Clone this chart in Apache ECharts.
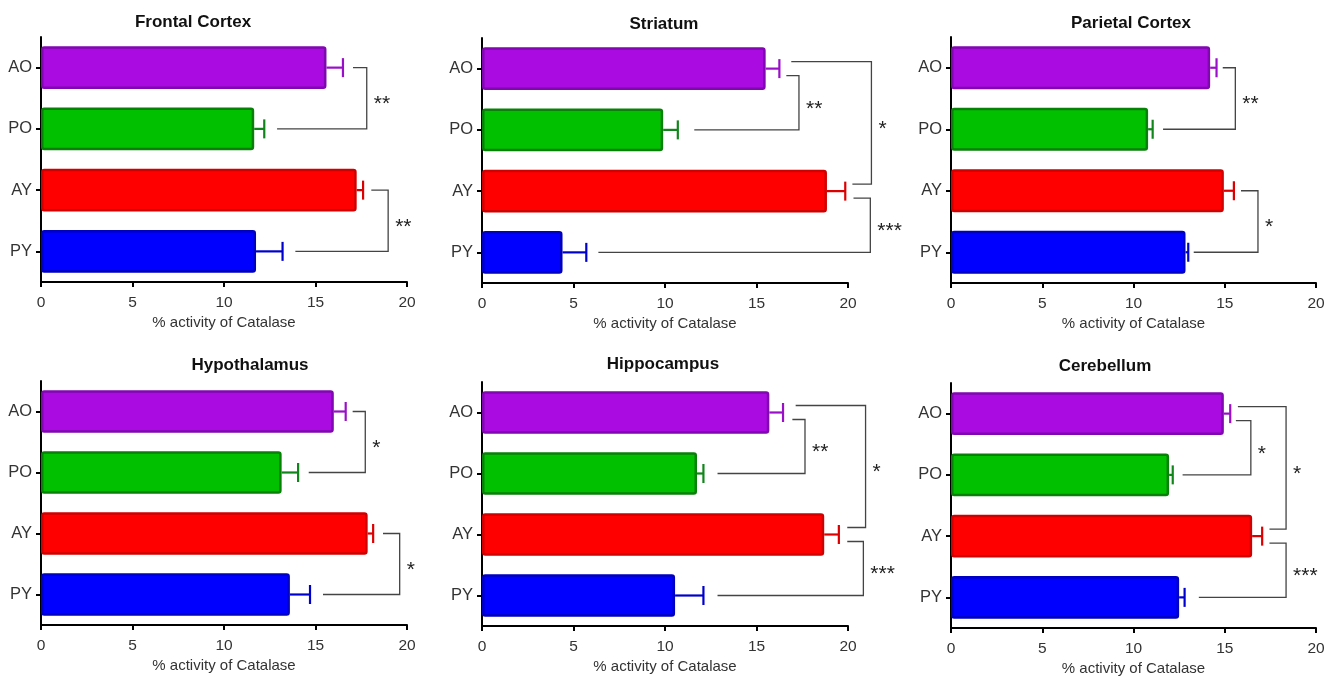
<!DOCTYPE html>
<html>
<head>
<meta charset="utf-8">
<script src="https://cdn.jsdelivr.net/npm/echarts@6/dist/echarts.min.js"></script>
<style>
html, body { margin: 0; padding: 0; background: #fff; }
#chart { width: 1338px; height: 678px; }
</style>
</head>
<body>
<div id="chart"></div>
<script>
// groups, top to bottom
const categories = ['AO', 'PO', 'AY', 'PY'];
const regions = ['Frontal Cortex', 'Striatum', 'Parietal Cortex', 'Hypothalamus', 'Hippocampus', 'Cerebellum'];

// mean % activity of catalase (AO, PO, AY, PY)
const frontalMean = [15.6, 11.65, 17.25, 11.75];
const striatumMean = [15.5, 9.9, 18.85, 4.4];
const parietalMean = [14.2, 10.8, 14.95, 12.85];
const hypothalamusMean = [16.0, 13.15, 17.85, 13.6];
const hippocampusMean = [15.7, 11.75, 18.7, 10.55];
const cerebellumMean = [14.95, 11.95, 16.5, 12.5];

// error (SEM)
const frontalErr = [0.9, 0.55, 0.35, 1.45];
const striatumErr = [0.75, 0.8, 1.0, 1.3];
const parietalErr = [0.35, 0.25, 0.55, 0.15];
const hypothalamusErr = [0.65, 0.9, 0.3, 1.1];
const hippocampusErr = [0.75, 0.35, 0.8, 1.55];
const cerebellumErr = [0.35, 0.2, 0.55, 0.3];

// significance brackets: [from, to, start x at from, start x at to, bracket x, label]
const frontalSig = [['AO', 'PO', 17.05, 12.9, 17.8, '**'], ['AY', 'PY', 18.05, 13.9, 18.97, '**']];
const striatumSig = [['AO', 'PO', 16.63, 11.6, 17.32, '**'], ['AO', 'AY', 16.9, 20.24, 21.28, '*'], ['AY', 'PY', 20.3, 6.36, 21.22, '***']];
const parietalSig = [['AO', 'PO', 14.89, 11.62, 15.58, '**'], ['AY', 'PY', 15.89, 13.3, 16.82, '*']];
const hypothalamusSig = [['AO', 'PO', 17.03, 14.63, 17.72, '*'], ['AY', 'PY', 18.69, 15.41, 19.6, '*']];
const hippocampusSig = [['AO', 'PO', 16.96, 12.87, 17.65, '**'], ['AO', 'AY', 17.14, 19.96, 20.96, '*'], ['AY', 'PY', 19.96, 12.87, 20.84, '***']];
const cerebellumSig = [['AO', 'PO', 15.61, 12.69, 16.43, '*'], ['AO', 'AY', 15.72, 17.45, 18.36, '*'], ['AY', 'PY', 17.45, 13.58, 18.36, '***']];

const xTicks = [0, 5, 10, 15, 20];
const xName = '% activity of Catalase';

const allMeans = [frontalMean, striatumMean, parietalMean, hypothalamusMean, hippocampusMean, cerebellumMean];
const allErr = [frontalErr, striatumErr, parietalErr, hypothalamusErr, hippocampusErr, cerebellumErr];
const allSig = [frontalSig, striatumSig, parietalSig, hypothalamusSig, hippocampusSig, cerebellumSig];

// panel layout
const panels = [
    { left: 41, top: 37, width: 366, height: 245, tx: 193, ty: 22 },
    { left: 482, top: 38, width: 366, height: 245, tx: 664, ty: 24 },
    { left: 951, top: 37, width: 365, height: 246, tx: 1131, ty: 23 },
    { left: 41, top: 381, width: 366, height: 244, tx: 250, ty: 365 },
    { left: 482, top: 382, width: 366, height: 244, tx: 663, ty: 364 },
    { left: 951, top: 383, width: 365, height: 245, tx: 1105, ty: 366 }
];

const fills = ['#a90be0', '#00c000', '#ff0000', '#0000ff'];
const borders = ['#8008b0', '#0a800a', '#d00000', '#0000c0'];
const errColors = ['#9a10c8', '#10861a', '#dd0000', '#0000cc'];
const FONT = '"Liberation Sans", Arial, sans-serif';

// vertical pixel offset of bracket ends where a group is shared by two brackets
function bracketOffsets(sig) {
    const ends = sig.map(() => [0, 0]);
    categories.forEach((c, ci) => {
        const hits = [];
        sig.forEach((s, si) => {
            [0, 1].forEach(k => {
                if (s[k] === c) {
                    const other = categories.indexOf(s[1 - k]);
                    const d = other - ci;
                    // upward brackets on top (short first), downward ones below (long first)
                    const key = d < 0 ? -1000 - d : -d;
                    hits.push({ si, k, key });
                }
            });
        });
        if (hits.length > 1) {
            hits.sort((a, b) => a.key - b.key);
            hits.forEach((h, i) => {
                ends[h.si][h.k] = i === 0 ? -7 : 7;
            });
        }
    });
    return ends;
}

const chart = echarts.init(document.getElementById('chart'));

const grid = [], xAxis = [], yAxis = [], series = [], graphic = [];

panels.forEach((p, i) => {
    grid.push({ left: p.left, top: p.top, width: p.width, height: p.height, outerBoundsMode: 'none', containLabel: false });
    xAxis.push({
        gridIndex: i, type: 'value', min: xTicks[0], max: xTicks[xTicks.length - 1], interval: 5,
        name: xName, nameLocation: 'middle', nameGap: 33,
        nameTextStyle: { fontFamily: FONT, fontSize: 15, color: '#333' },
        axisLine: { show: true, lineStyle: { color: '#000', width: 2 } },
        axisTick: { show: true, length: 5, lineStyle: { color: '#000', width: 2 } },
        axisLabel: { fontFamily: FONT, fontSize: 15.5, color: '#333', margin: 13 },
        splitLine: { show: false }
    });
    yAxis.push({
        gridIndex: i, type: 'category', data: categories, inverse: true,
        axisLine: { show: true, lineStyle: { color: '#000', width: 2 } },
        axisTick: { show: true, alignWithLabel: true, length: 5, lineStyle: { color: '#000', width: 2 } },
        axisLabel: { fontFamily: FONT, fontSize: 16.5, color: '#333', margin: 9 },
        splitLine: { show: false }
    });

    series.push({
        type: 'bar', xAxisIndex: i, yAxisIndex: i, barCategoryGap: '30%', silent: true,
        data: allMeans[i].map((v, k) => ({
            value: v,
            itemStyle: { color: fills[k], borderColor: borders[k], borderWidth: 2.5, borderRadius: 2 }
        })),
        z: 2
    });

    series.push({
        type: 'custom', xAxisIndex: i, yAxisIndex: i, silent: true, clip: false, z: 3,
        data: allMeans[i].map((v, k) => [v, k, allErr[i][k]]),
        renderItem: (params, api) => {
            const k = api.value(1);
            const a = api.coord([api.value(0), k]);
            const b = api.coord([api.value(0) + api.value(2), k]);
            const st = { stroke: errColors[k], lineWidth: 2.2 };
            return {
                type: 'group',
                children: [
                    { type: 'line', shape: { x1: a[0], y1: a[1], x2: b[0], y2: b[1] }, style: st },
                    { type: 'line', shape: { x1: b[0], y1: b[1] - 9.5, x2: b[0], y2: b[1] + 9.5 }, style: st }
                ]
            };
        }
    });

    const sig = allSig[i];
    const offs = bracketOffsets(sig);
    series.push({
        type: 'custom', xAxisIndex: i, yAxisIndex: i, silent: true, clip: false, z: 4,
        data: sig.map(s => [categories.indexOf(s[0]), categories.indexOf(s[1]), s[2], s[3], s[4]]),
        renderItem: (params, api) => {
            const idx = params.dataIndex;
            const f = api.value(0), t = api.value(1);
            const p1 = api.coord([api.value(2), f]);
            const p2 = api.coord([api.value(3), t]);
            const vx = api.coord([api.value(4), f])[0];
            const y1 = p1[1] + offs[idx][0];
            const y2 = p2[1] + offs[idx][1];
            return {
                type: 'group',
                children: [
                    {
                        type: 'polyline',
                        shape: { points: [[p1[0], y1], [vx, y1], [vx, y2], [p2[0], y2]] },
                        style: { stroke: '#444', fill: null, lineWidth: 1.3 }
                    },
                    {
                        type: 'text', x: vx + 7, y: (y1 + y2) / 2 + 6,
                        style: { text: sig[idx][5], fill: '#222', font: '21px ' + FONT, align: 'left', verticalAlign: 'middle' }
                    }
                ]
            };
        }
    });

    graphic.push({
        type: 'text', x: p.tx, y: p.ty, silent: true,
        style: { text: regions[i], fill: '#111', font: 'bold 17px ' + FONT, align: 'center', verticalAlign: 'middle' }
    });
});

chart.setOption({
    animation: false,
    backgroundColor: '#fff',
    grid: grid,
    xAxis: xAxis,
    yAxis: yAxis,
    series: series,
    graphic: graphic
});
</script>
</body>
</html>
